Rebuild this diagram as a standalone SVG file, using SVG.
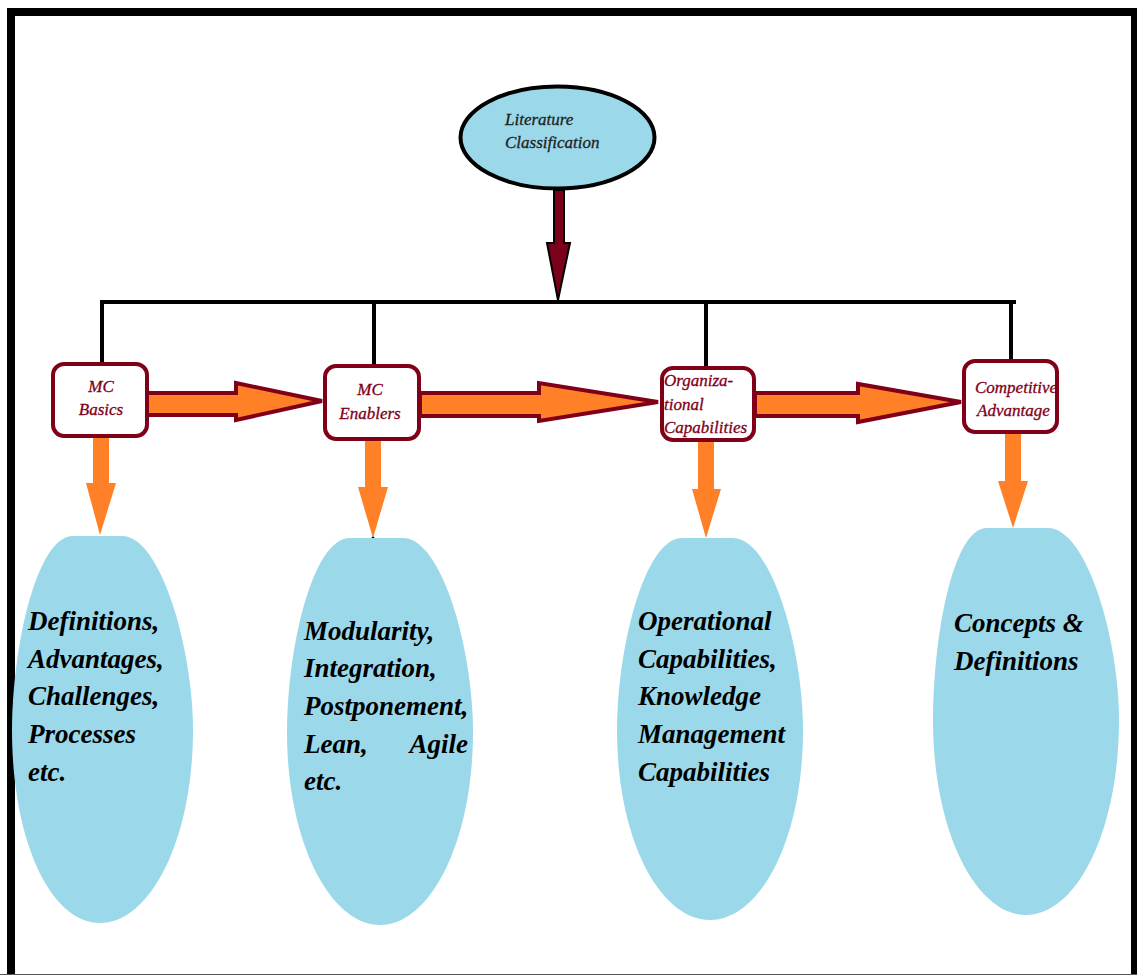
<svg xmlns="http://www.w3.org/2000/svg" width="1137" height="975" viewBox="0 0 1137 975">
  <defs>
    <style>
      .frame { fill: none; stroke: #000; stroke-width: 8; }
      .bubble { fill: #9bd9ea; }
      .topnode { fill: #9bd9ea; stroke: #000; stroke-width: 4; }
      .box { fill: #fff; stroke: #800018; stroke-width: 4; }
      .boxtxt { font-family: "Liberation Serif", serif; font-style: italic; font-size: 17px; fill: #800018; stroke: #800018; stroke-width: 0.3; }
      .toptxt { font-family: "Liberation Serif", serif; font-style: italic; font-size: 17px; fill: #222; stroke: #222; stroke-width: 0.3; }
      .bigtxt { font-family: "Liberation Serif", serif; font-style: italic; font-weight: bold; font-size: 27px; fill: #000; }
      .tree { stroke: #000; stroke-width: 4; fill: none; }
      .flow { fill: #ff8026; stroke: #800018; stroke-width: 4; stroke-linejoin: miter; }
      .down { fill: #ff8026; }
      .main { fill: #7b0019; stroke: #000; stroke-width: 2; }
    </style>
  </defs>

  <rect width="1137" height="975" fill="#fff"/>
  <!-- outer frame -->
  <rect class="frame" x="11" y="12" width="1124" height="990"/>
  <line x1="0" y1="974.5" x2="1137" y2="974.5" stroke="#555" stroke-width="1"/>

  <!-- root node -->
  <g id="literature-classification">
    <ellipse class="topnode" cx="557.5" cy="137.5" rx="97" ry="51"/>
    <text class="toptxt" x="505" y="125">Literature</text>
    <text class="toptxt" x="505" y="148">Classification</text>
  </g>

  <!-- connectors -->
  <g id="connectors">
    <path class="main" d="M554,190 L564,190 L564,243 L570,243 L558,300 L547,243 L554,243 Z"/>
    <line class="tree" x1="100" y1="302" x2="1016" y2="302"/>
    <line class="tree" x1="102" y1="302" x2="102" y2="364"/>
    <line class="tree" x1="374" y1="302" x2="374" y2="366"/>
    <line class="tree" x1="706" y1="302" x2="706" y2="368"/>
    <line class="tree" x1="1011" y1="302" x2="1011" y2="361"/>

    <!-- flow arrows between categories -->
    <path class="flow" d="M147,393 L236,393 L236,383 L322,401 L236,420 L236,415 L147,415 Z"/>
    <path class="flow" d="M420,393 L539,393 L539,383 L658,402 L539,421 L539,416 L420,416 Z"/>
    <path class="flow" d="M755,393 L858,393 L858,384 L961,402 L858,422 L858,416 L755,416 Z"/>

    <!-- arrows down to detail bubbles -->
    <path class="down" d="M93,437 L109,437 L109,483 L116,483 L100,535 L86,483 L93,483 Z"/>
    <path class="down" d="M365,440 L381,440 L381,487 L388,487 L373,538 L358,487 L365,487 Z"/>
    <circle cx="373" cy="538" r="1.5" fill="#000"/>
    <path class="down" d="M698,441 L714,441 L714,489 L721,489 L706,538 L692,489 L698,489 Z"/>
    <path class="down" d="M1005,433 L1021,433 L1021,481 L1028,481 L1013,528 L998,481 L1005,481 Z"/>
  </g>

  <!-- category boxes -->
  <g id="mc-basics">
    <rect class="box" x="53" y="364" width="94" height="72" rx="11"/>
    <text class="boxtxt" x="101" y="392" text-anchor="middle">MC</text>
    <text class="boxtxt" x="101" y="415" text-anchor="middle">Basics</text>
  </g>
  <g id="mc-enablers">
    <rect class="box" x="325" y="366" width="94" height="73" rx="11"/>
    <text class="boxtxt" x="370" y="395" text-anchor="middle">MC</text>
    <text class="boxtxt" x="370" y="419" text-anchor="middle">Enablers</text>
  </g>
  <g id="organizational-capabilities">
    <rect class="box" x="662" y="368" width="92" height="72" rx="11"/>
    <text class="boxtxt" x="664" y="386">Organiza-</text>
    <text class="boxtxt" x="664" y="410">tional</text>
    <text class="boxtxt" x="664" y="433">Capabilities</text>
  </g>
  <g id="competitive-advantage">
    <rect class="box" x="964" y="361" width="93" height="71" rx="11"/>
    <text class="boxtxt" x="975" y="393">Competitive</text>
    <text class="boxtxt" x="977" y="416">Advantage</text>
  </g>

  <!-- detail bubbles -->
  <g id="basics-details">
    <path class="bubble" d="M73,536 L122,536 C161,536 193,650 193,730 C193,840 150,923 100,923 C50,923 12,840 12,730 C12,650 36,536 73,536 Z"/>
    <text class="bigtxt" x="28" y="630">Definitions,</text>
    <text class="bigtxt" x="28" y="668">Advantages,</text>
    <text class="bigtxt" x="28" y="705">Challenges,</text>
    <text class="bigtxt" x="28" y="743">Processes</text>
    <text class="bigtxt" x="28" y="781">etc.</text>
  </g>
  <g id="enablers-details">
    <path class="bubble" d="M350,538 L403,538 C442,538 473,650 473,732 C473,842 430,925 380,925 C330,925 287,842 287,732 C287,650 312,538 350,538 Z"/>
    <text class="bigtxt" x="304" y="640">Modularity,</text>
    <text class="bigtxt" x="304" y="677">Integration,</text>
    <text class="bigtxt" x="304" y="715">Postponement,</text>
    <text class="bigtxt" x="304" y="753">Lean,</text>
    <text class="bigtxt" x="468" y="753" text-anchor="end">Agile</text>
    <text class="bigtxt" x="304" y="790">etc.</text>
  </g>
  <g id="capabilities-details">
    <path class="bubble" d="M682,538 L733,538 C772,538 803,650 803,730 C803,840 760,920 710,920 C660,920 617,840 617,730 C617,650 644,538 682,538 Z"/>
    <text class="bigtxt" x="638" y="630">Operational</text>
    <text class="bigtxt" x="638" y="668">Capabilities,</text>
    <text class="bigtxt" x="638" y="705">Knowledge</text>
    <text class="bigtxt" x="638" y="743">Management</text>
    <text class="bigtxt" x="638" y="781">Capabilities</text>
  </g>
  <g id="advantage-details">
    <path class="bubble" d="M987,528 L1048,528 C1087,528 1119,640 1119,720 C1119,832 1076,915 1026,915 C976,915 933,832 933,720 C933,640 952,528 987,528 Z"/>
    <text class="bigtxt" x="954" y="632">Concepts &amp;</text>
    <text class="bigtxt" x="954" y="670">Definitions</text>
  </g>
</svg>
